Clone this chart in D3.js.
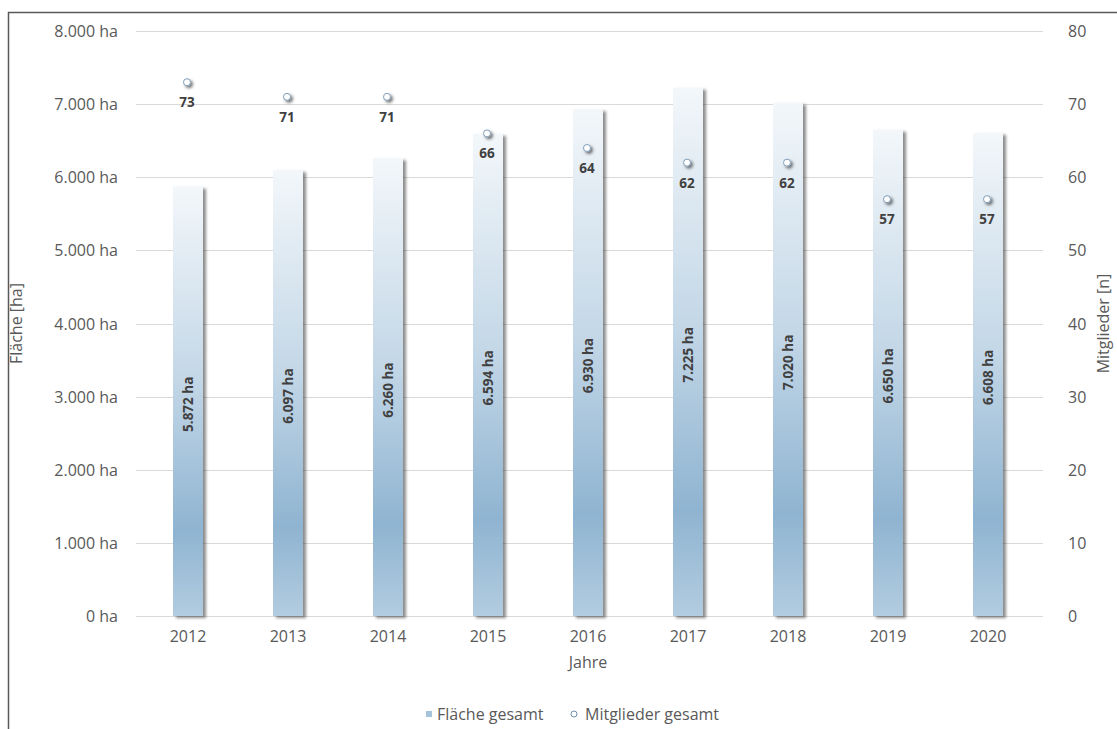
<!DOCTYPE html>
<html>
<head>
<meta charset="utf-8">
<script src="https://cdn.jsdelivr.net/npm/d3@7"></script>
<style>
  body { margin: 0; background: #fff; }
  text { font-family: "Open Sans", "Liberation Sans", sans-serif; }
  .axis-label { fill: #595959; font-size: 16px; }
  .legend-label { fill: #595959; font-size: 16px; }
  .data-label { fill: #404040; font-size: 13.5px; font-weight: bold; }
</style>
</head>
<body>
<div id="chart"></div>
<script>
// chart data
const years = ["2012", "2013", "2014", "2015", "2016", "2017", "2018", "2019", "2020"];
const flaeche = [5872, 6097, 6260, 6594, 6930, 7225, 7020, 6650, 6608];
const mitglieder = [73, 71, 71, 66, 64, 62, 62, 57, 57];
const leftTicks = [0, 1000, 2000, 3000, 4000, 5000, 6000, 7000, 8000];
const rightTicks = [0, 10, 20, 30, 40, 50, 60, 70, 80];

const W = 1117, H = 729;
const margin = {top: 31, right: 79, bottom: 113, left: 138};
const width = W - margin.left - margin.right;
const height = H - margin.top - margin.bottom;

const fmt = d3.formatLocale({decimal: ",", thousands: ".", grouping: [3], currency: ["", ""]}).format(",");

const svg = d3.select("#chart").append("svg")
    .attr("width", W)
    .attr("height", H);

const defs = svg.append("defs");
let grad = defs.append("linearGradient")
    .attr("id", "barGrad")
    .attr("x1", 0).attr("y1", 0).attr("x2", 0).attr("y2", 1);
grad.append("stop").attr("offset", "0%").attr("stop-color", "#f3f7fa");
grad.append("stop").attr("offset", "45%").attr("stop-color", "#c3d7e7");
grad.append("stop").attr("offset", "80%").attr("stop-color", "#8fb4d1");
grad.append("stop").attr("offset", "100%").attr("stop-color", "#b2cce0");

let shadow = defs.append("filter").attr("id", "shadow")
    .attr("x", "-50%").attr("y", "-10%").attr("width", "200%").attr("height", "120%");
shadow.append("feDropShadow")
    .attr("dx", 3).attr("dy", 2).attr("stdDeviation", 1.5)
    .attr("flood-color", "#000").attr("flood-opacity", 0.45);

let dotShadow = defs.append("filter").attr("id", "dotShadow")
    .attr("x", "-100%").attr("y", "-100%").attr("width", "300%").attr("height", "300%");
dotShadow.append("feDropShadow")
    .attr("dx", 2).attr("dy", 2).attr("stdDeviation", 1.5)
    .attr("flood-color", "#000").attr("flood-opacity", 0.55);

// outer frame
svg.append("rect")
    .attr("x", 8.5).attr("y", 12.5)
    .attr("width", W + 20).attr("height", H + 20)
    .attr("fill", "none")
    .attr("stroke", "#595959")
    .attr("stroke-width", 1.5);

const g = svg.append("g")
    .attr("transform", `translate(${margin.left}, ${margin.top})`);

// scales
const x = d3.scaleBand().domain(years).range([0, width]);
const y = d3.scaleLinear().domain([0, 8000]).range([height, 0]);
const y2 = d3.scaleLinear().domain([0, 80]).range([height, 0]);

// gridlines
g.append("g").selectAll("line")
    .data(leftTicks)
    .enter().append("line")
    .attr("x1", -2).attr("x2", width + 5)
    .attr("y1", d => Math.round(y(d)) + 0.5)
    .attr("y2", d => Math.round(y(d)) + 0.5)
    .attr("stroke", "#d9d9d9")
    .attr("stroke-width", 1);

// left axis
const yAxis = d3.axisLeft(y).tickValues(leftTicks).tickSize(0).tickPadding(20)
    .tickFormat(d => fmt(d) + " ha");
g.append("g").attr("class", "y axis").call(yAxis)
    .call(s => s.select(".domain").remove())
    .selectAll("text").attr("class", "axis-label").attr("dy", "0.35em");

// right axis
const y2Axis = d3.axisRight(y2).tickValues(rightTicks).tickSize(0).tickPadding(30);
g.append("g").attr("class", "y2 axis")
    .attr("transform", `translate(${width}, 0)`)
    .call(y2Axis)
    .call(s => s.select(".domain").remove())
    .selectAll("text").attr("class", "axis-label").attr("dy", "0.35em");

// x axis
const xAxis = d3.axisBottom(x).tickSize(0).tickPadding(15);
g.append("g").attr("class", "x axis")
    .attr("transform", `translate(0, ${height})`)
    .call(xAxis)
    .call(s => s.select(".domain").remove())
    .selectAll("text").attr("class", "axis-label").attr("dy", "0.71em");

// bars
const barW = 30;
g.append("g").selectAll("rect")
    .data(flaeche)
    .enter().append("rect")
    .attr("x", (d, i) => x(years[i]) + x.bandwidth() / 2 - barW / 2)
    .attr("y", d => y(d))
    .attr("width", barW)
    .attr("height", d => height - y(d))
    .attr("fill", "url(#barGrad)")
    .attr("filter", "url(#shadow)");

// bar labels (rotated)
g.append("g").selectAll("text")
    .data(flaeche)
    .enter().append("text")
    .attr("class", "data-label")
    .attr("text-anchor", "middle")
    .attr("dy", "0.35em")
    .attr("transform", (d, i) => {
        let cx = x(years[i]) + x.bandwidth() / 2;
        let cy = (y(d) + height) / 2 + 3;
        return `translate(${cx}, ${cy}) rotate(-90)`;
    })
    .text(d => fmt(d) + " ha");

// member markers
g.append("g").selectAll("circle")
    .data(mitglieder)
    .enter().append("circle")
    .attr("cx", (d, i) => x(years[i]) + x.bandwidth() / 2 - 1)
    .attr("cy", d => y2(d))
    .attr("r", 3.5)
    .attr("fill", "#fff")
    .attr("stroke", "#7f9cb8")
    .attr("stroke-width", 1)
    .attr("filter", "url(#dotShadow)");

g.append("g").selectAll("text")
    .data(mitglieder)
    .enter().append("text")
    .attr("class", "data-label")
    .attr("text-anchor", "middle")
    .attr("x", (d, i) => x(years[i]) + x.bandwidth() / 2 - 1)
    .attr("y", d => y2(d) + 25)
    .text(d => d);

// axis titles
svg.append("text")
    .attr("class", "axis-label")
    .attr("text-anchor", "middle")
    .attr("transform", `translate(22, ${margin.top + height / 2}) rotate(-90)`)
    .text("Fläche [ha]");

svg.append("text")
    .attr("class", "axis-label")
    .attr("text-anchor", "middle")
    .attr("transform", `translate(1109, ${margin.top + height / 2}) rotate(-90)`)
    .text("Mitglieder [n]");

svg.append("text")
    .attr("class", "axis-label")
    .attr("text-anchor", "middle")
    .attr("x", margin.left + width / 2)
    .attr("y", 668)
    .text("Jahre");

// legend
const legend = svg.append("g").attr("transform", "translate(426, 714)");
legend.append("rect")
    .attr("x", 0).attr("y", -3).attr("width", 6).attr("height", 6)
    .attr("fill", "#a7c3da");
legend.append("text")
    .attr("class", "legend-label")
    .attr("x", 11).attr("dy", "0.35em")
    .text("Fläche gesamt");
legend.append("circle")
    .attr("cx", 148).attr("cy", 0).attr("r", 3)
    .attr("fill", "#fff").attr("stroke", "#6f8fb0");
legend.append("text")
    .attr("class", "legend-label")
    .attr("x", 159).attr("dy", "0.35em")
    .text("Mitglieder gesamt");
</script>
</body>
</html>
